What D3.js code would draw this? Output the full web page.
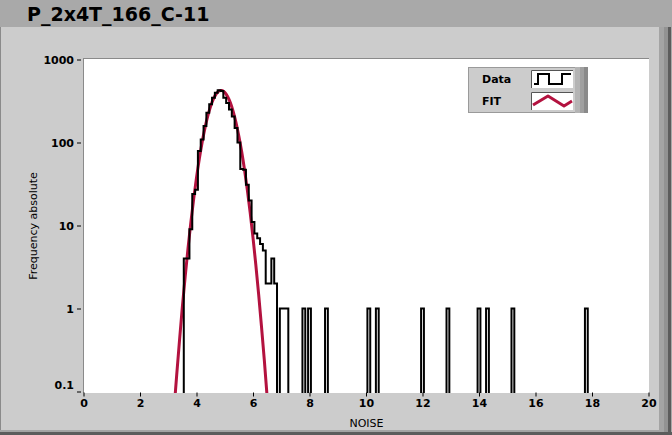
<!DOCTYPE html>
<html><head><meta charset="utf-8">
<script src="https://cdn.jsdelivr.net/npm/d3@7"></script>
<style>body{margin:0;background:#cccccc;overflow:hidden}svg{display:block}</style>
</head><body><svg id="c" width="672" height="435"></svg>
<script>
// ---------- data ----------
const title = "P_2x4T_166_C-11";
const xLabel = "NOISE";
const yLabel = "Frequency absolute";
const xTicks = [0, 2, 4, 6, 8, 10, 12, 14, 16, 18, 20];
const yTicks = [0.1, 1, 10, 100, 1000];
const yTickLabels = ["0.1", "1", "10", "100", "1000"];
const legendNames = ["Data", "FIT"];
const binWidth = 0.1;
const binCenters = [3.6, 3.7, 3.8, 3.9, 4.0, 4.1, 4.2, 4.3, 4.4, 4.5, 4.6, 4.7, 4.8, 4.9, 5.0,
  5.1, 5.2, 5.3, 5.4, 5.5, 5.6, 5.7, 5.8, 5.9, 6.0, 6.1, 6.2, 6.3, 6.4, 6.5, 6.6, 6.7, 6.8,
  7.0, 7.1, 7.2, 7.8, 8.0, 8.6, 10.1, 10.4, 12.0, 12.9, 14.0, 14.3, 15.2, 17.8];
const binCounts = [4, 4, 9, 24, 27, 79, 109, 158, 229, 288, 347, 398, 425, 418, 347,
  300, 250, 205, 150, 100, 48, 47, 31, 20, 11, 8, 7, 6, 5, 2, 2, 4, 2,
  1, 1, 1, 1, 1, 1, 1, 1, 1, 1, 1, 1, 1, 1];
const fitX = [3.2, 3.3, 3.4, 3.5, 3.6, 3.7, 3.8, 3.9, 4.0, 4.1, 4.2, 4.3, 4.4, 4.5, 4.6, 4.7,
  4.8, 4.9, 5.0, 5.1, 5.2, 5.3, 5.4, 5.5, 5.6, 5.7, 5.8, 5.9, 6.0, 6.1, 6.2, 6.3, 6.4, 6.5, 6.6];
const fitY = [0.057, 0.16, 0.42, 1.05, 2.44, 5.32, 10.9, 20.9, 37.7, 63.7, 101, 150, 209, 274,
  336, 387, 418, 423, 402, 358, 300, 235, 173, 119, 77.2, 46.9, 26.7, 14.3, 7.14, 3.36, 1.48,
  0.61, 0.24, 0.086, 0.03];

// ---------- layout ----------
const W = 672, H = 435;
const plot = {x0: 84, x1: 649, y0: 59, y1: 393};
const FONT = "DejaVu Sans, Verdana, sans-serif";
const svg = d3.select("#c");

// frame
svg.append("rect").attr("x", 0).attr("y", 0).attr("width", W).attr("height", H).attr("fill", "#cccccc");
svg.append("rect").attr("x", 0).attr("y", 0).attr("width", W).attr("height", 27).attr("fill", "#a9a9a9");
svg.append("rect").attr("x", 0).attr("y", 27).attr("width", 1).attr("height", H - 27).attr("fill", "#8a8a8a");
const rs = [[659, 5, "#a4a4a4"], [664, 4, "#929292"], [668, 3, "#5c5c5c"], [671, 1, "#a9a9a9"]];
rs.forEach(r => svg.append("rect").attr("x", r[0]).attr("y", 27).attr("width", r[1]).attr("height", H - 27).attr("fill", r[2]));
svg.append("rect").attr("x", 0).attr("y", 430).attr("width", 659).attr("height", 2).attr("fill", "#a4a4a4");
svg.append("rect").attr("x", 0).attr("y", 432).attr("width", 672).attr("height", 3).attr("fill", "#5c5c5c");

svg.append("text").attr("x", 27).attr("y", 21).attr("font-family", FONT).attr("font-weight", "bold")
  .attr("font-size", 19).attr("fill", "#000").text(title);

// plot area
svg.append("rect").attr("x", plot.x0).attr("y", plot.y0).attr("width", plot.x1 - plot.x0)
  .attr("height", plot.y1 - plot.y0).attr("fill", "#ffffff");
svg.append("rect").attr("x", plot.x0 - 1).attr("y", plot.y0 - 1).attr("width", plot.x1 - plot.x0 + 1)
  .attr("height", 1).attr("fill", "#8a8a8a");
svg.append("rect").attr("x", plot.x0 - 1).attr("y", plot.y0 - 1).attr("width", 1)
  .attr("height", plot.y1 - plot.y0 + 1).attr("fill", "#8a8a8a");

const x = d3.scaleLinear().domain([0, 20]).range([83.5, 648.5]);
const y = d3.scaleLog().domain([0.1, 1000]).range([391.5, 59.5]);

// axes
const xAxis = d3.axisBottom(x).tickValues(xTicks).tickSize(4).tickPadding(3).tickFormat(d3.format("d"));
const gx = svg.append("g").attr("transform", "translate(0,392.5)").call(xAxis);
gx.select(".domain").remove();
gx.selectAll("text").attr("font-family", FONT).attr("font-size", 11).attr("font-weight", "bold").attr("fill", "#000");
gx.selectAll("line").attr("stroke", "#000");

const yAxis = d3.axisLeft(y).tickValues(yTicks).tickSize(4).tickPadding(3)
  .tickFormat((d, i) => yTickLabels[i]);
const gy = svg.append("g").attr("transform", "translate(81,0)").call(yAxis);
gy.select(".domain").remove();
gy.selectAll("text").attr("font-family", FONT).attr("font-size", 11).attr("font-weight", "bold").attr("fill", "#000")
  .attr("dy", (d) => d === 0.1 ? "-0.25em" : "0.36em");
gy.selectAll("line").attr("stroke", "#000");

svg.append("text").attr("x", (plot.x0 + plot.x1) / 2).attr("y", 427).attr("text-anchor", "middle")
  .attr("font-family", FONT).attr("font-size", 11).attr("fill", "#000").text(xLabel);
svg.append("text").attr("transform", `translate(37,${(plot.y0 + plot.y1) / 2}) rotate(-90)`)
  .attr("text-anchor", "middle").attr("font-family", FONT).attr("font-size", 11).attr("fill", "#000").text(yLabel);

// clip
svg.append("clipPath").attr("id", "pc").append("rect").attr("x", plot.x0).attr("y", plot.y0)
  .attr("width", plot.x1 - plot.x0).attr("height", plot.y1 - plot.y0);
const g = svg.append("g").attr("clip-path", "url(#pc)");

// fit
const fitPts = fitX.map((v, i) => [v, fitY[i]]);
g.append("path").attr("d", d3.line().x(d => x(d[0])).y(d => y(d[1])).curve(d3.curveCatmullRom)(fitPts))
  .attr("fill", "none").attr("stroke", "#b3123f").attr("stroke-width", 3).attr("stroke-linejoin", "round");

// histogram step line
const floorVal = 0.01;
const pts = [];
let prevR = null, prevV = null;
binCenters.forEach((c, i) => {
  const L = c - binWidth / 2, R = c + binWidth / 2, v = binCounts[i];
  if (prevR === null) { pts.push([L, floorVal]); }
  else if (Math.abs(L - prevR) > 1e-6) { pts.push([prevR, floorVal]); pts.push([L, floorVal]); }
  else { pts.push([L, prevV]); }
  pts.push([L, v]); pts.push([R, v]);
  prevR = R; prevV = v;
});
pts.push([prevR, floorVal]);
g.append("path").attr("d", d3.line().x(d => x(d[0])).y(d => y(d[1]))(pts))
  .attr("fill", "none").attr("stroke", "#000").attr("stroke-width", 2).attr("stroke-linejoin", "miter");

// legend
const lg = svg.append("g").attr("transform", "translate(468,67)");
lg.append("rect").attr("x", 0).attr("y", 0).attr("width", 107).attr("height", 45).attr("fill", "#cccccc")
  .attr("stroke", "#9a9a9a").attr("stroke-width", 1).attr("transform", "translate(0.5,0.5)");
[[107, 5, "#b4b4b4"], [112, 4, "#a0a0a0"], [116, 4, "#8a8a8a"]].forEach(r =>
  lg.append("rect").attr("x", r[0]).attr("y", 0).attr("width", r[1]).attr("height", 46).attr("fill", r[2]));
legendNames.forEach((name, i) => {
  const yy = 3 + i * 22;
  lg.append("text").attr("x", 14).attr("y", yy + 13).attr("font-family", FONT).attr("font-weight", "bold")
    .attr("font-size", 11).attr("fill", "#000").text(name);
  lg.append("rect").attr("x", 63).attr("y", yy).attr("width", 42).attr("height", 18).attr("fill", "#fff");
  lg.append("path").attr("d", `M63.5,${yy + 18}V${yy + 0.5}H105`).attr("fill", "none").attr("stroke", "#555");
  const sg = lg.append("g").attr("transform", `translate(63,${yy})`);
  if (i === 0) {
    sg.append("path").attr("d", "M3,14H7V4H18V14H31V4H40").attr("fill", "none").attr("stroke", "#000").attr("stroke-width", 2);
  } else {
    sg.append("path").attr("d", "M2,13L17,4L33,14L41,9").attr("fill", "none").attr("stroke", "#b3123f")
      .attr("stroke-width", 3).attr("stroke-linejoin", "round");
  }
});
</script></body></html>
